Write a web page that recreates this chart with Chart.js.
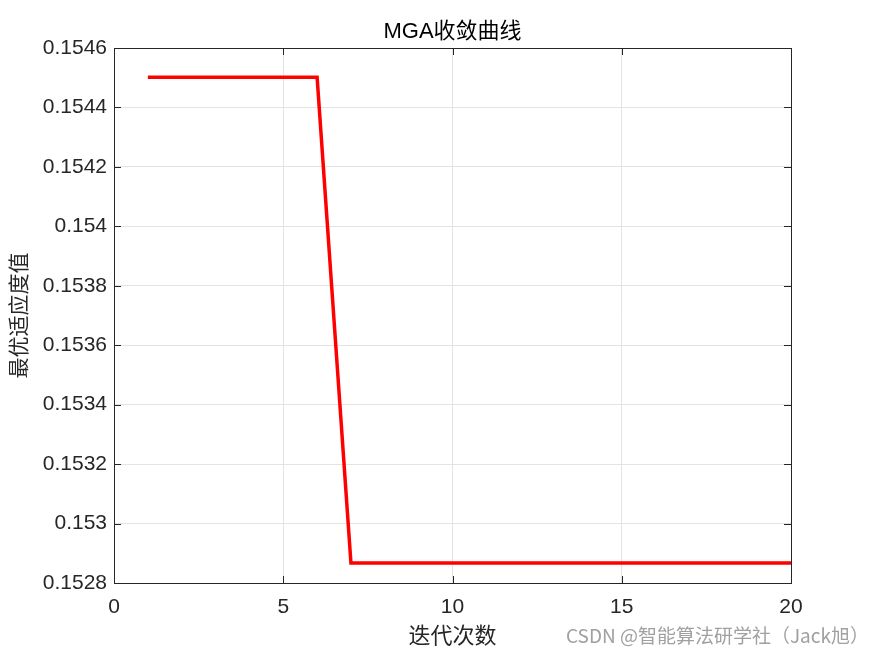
<!DOCTYPE html>
<html>
<head>
<meta charset="utf-8">
<script src="https://cdn.jsdelivr.net/npm/chart.js@4"></script>
<style>
  body { margin: 0; background: #fff; }
</style>
</head>
<body>
<canvas id="mgaChart" width="875" height="656"></canvas>
<script>
// iteration number and best fitness per iteration
const iterations = [1, 2, 3, 4, 5, 6, 7, 8, 9, 10, 11, 12, 13, 14, 15, 16, 17, 18, 19, 20];
const bestFitness = [0.154502, 0.154502, 0.154502, 0.154502, 0.154502, 0.154502,
    0.152867, 0.152867, 0.152867, 0.152867, 0.152867, 0.152867, 0.152867,
    0.152867, 0.152867, 0.152867, 0.152867, 0.152867, 0.152867, 0.152867];
const xTicks = [0, 5, 10, 15, 20];
const yTicks = [0.1528, 0.153, 0.1532, 0.1534, 0.1536, 0.1538, 0.154, 0.1542, 0.1544, 0.1546];
const chartTitle = 'MGA收敛曲线';

const axisColor = '#262626';
const cjk = '"Noto Sans CJK SC", sans-serif';
const latin = 'Arial, "Liberation Sans", sans-serif';

// MATLAB style box with inward ticks, title over the axes, watermark
const boxPlugin = {
    id: 'boxPlugin',
    afterDraw(chart) {
        const ctx = chart.ctx;
        const a = chart.chartArea;
        const xs = chart.scales.x, ys = chart.scales.y;
        ctx.save();
        ctx.strokeStyle = axisColor;
        ctx.lineWidth = 1;
        ctx.strokeRect(a.left + 0.5, a.top + 0.5, a.right - a.left, a.bottom - a.top);
        ctx.beginPath();
        xTicks.forEach(v => {
            let px = Math.round(xs.getPixelForValue(v)) + 0.5;
            ctx.moveTo(px, a.bottom); ctx.lineTo(px, a.bottom - 7);
            ctx.moveTo(px, a.top); ctx.lineTo(px, a.top + 7);
        });
        yTicks.forEach(v => {
            let py = Math.round(ys.getPixelForValue(v)) + 0.5;
            ctx.moveTo(a.left, py); ctx.lineTo(a.left + 7, py);
            ctx.moveTo(a.right, py); ctx.lineTo(a.right - 7, py);
        });
        ctx.stroke();

        ctx.fillStyle = '#000';
        ctx.font = '22px ' + latin.replace('sans-serif', '') + cjk;
        ctx.textAlign = 'center';
        ctx.textBaseline = 'middle';
        ctx.fillText(chartTitle, (a.left + a.right) / 2, 32);

        ctx.fillStyle = '#a0a0a0';
        ctx.font = '19px ' + cjk;
        ctx.textAlign = 'right';
        ctx.fillText('CSDN @智能算法研学社（Jack旭）', 869, 636);
        ctx.restore();
    }
};

new Chart(document.getElementById('mgaChart'), {
    type: 'line',
    data: {
        labels: iterations,
        datasets: [{
            data: iterations.map((x, i) => ({ x: x, y: bestFitness[i] })),
            borderColor: '#ff0000',
            borderWidth: 3.5,
            pointRadius: 0,
            tension: 0,
            fill: false
        }]
    },
    options: {
        responsive: false,
        animation: false,
        layout: { padding: { left: 0, right: 84, top: 48, bottom: 0 } },
        plugins: {
            legend: { display: false },
            tooltip: { enabled: false },
            title: { display: false }
        },
        scales: {
            x: {
                type: 'linear',
                min: 0, max: 20,
                afterBuildTicks: s => { s.ticks = xTicks.map(v => ({ value: v })); },
                afterFit: s => { s.height = 73; },
                grid: { color: '#e3e3e3', drawTicks: false },
                border: { display: false },
                ticks: { color: axisColor, padding: 12, font: { family: latin, size: 21 } },
                title: { display: true, text: '迭代次数', color: axisColor, font: { family: cjk, size: 22 }, padding: { top: 0, bottom: 8 } }
            },
            y: {
                min: 0.1528, max: 0.1546,
                afterBuildTicks: s => { s.ticks = yTicks.map(v => ({ value: v })); },
                afterFit: s => { s.width = 114; },
                grid: { color: '#e3e3e3', drawTicks: false },
                border: { display: false },
                ticks: {
                    color: axisColor, padding: 7,
                    font: { family: latin, size: 21 },
                    callback: v => parseFloat(v.toFixed(4)).toString()
                },
                title: { display: true, text: '最优适应度值', color: axisColor, font: { family: cjk, size: 21 }, padding: { top: 5, bottom: 0 } }
            }
        }
    },
    plugins: [boxPlugin]
});
</script>
</body>
</html>
